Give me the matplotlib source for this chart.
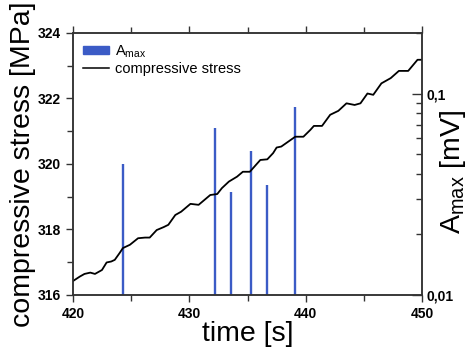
import matplotlib.pyplot as plt
import numpy as np
from matplotlib.ticker import FixedLocator, FuncFormatter, LogLocator, NullFormatter
from matplotlib.patches import Patch
from matplotlib.lines import Line2D

# compressive stress curve
t_stress = [420.0, 420.6, 421.0, 421.5, 421.9, 422.5, 422.9, 423.3, 423.6, 424.0,
            424.3, 424.9, 425.6, 426.2, 426.6, 427.2, 427.8, 428.2, 428.8, 429.3,
            430.1, 430.8, 431.3, 431.8, 432.4, 432.8, 433.4, 434.1, 434.6, 435.2,
            435.6, 436.1, 436.7, 437.2, 437.5, 437.9, 438.5, 439.1, 439.8, 440.4,
            440.7, 441.4, 442.1, 442.8, 443.5, 444.2, 444.7, 445.3, 445.8, 446.5,
            447.3, 448.0, 448.8, 449.6, 450.0]
stress = [316.42, 316.56, 316.64, 316.68, 316.64, 316.76, 316.99, 317.02, 317.07, 317.27,
          317.43, 317.53, 317.73, 317.75, 317.75, 317.98, 318.07, 318.14, 318.44, 318.54,
          318.78, 318.75, 318.90, 319.05, 319.08, 319.26, 319.46, 319.61, 319.76, 319.76,
          319.92, 320.12, 320.14, 320.33, 320.50, 320.53, 320.68, 320.83, 320.83, 321.04,
          321.16, 321.16, 321.50, 321.62, 321.85, 321.80, 321.85, 322.15, 322.11, 322.46,
          322.62, 322.84, 322.84, 323.18, 323.18]

# A_max events
t_amax = [424.3, 432.2, 433.6, 435.3, 436.65, 439.1]
amax = [0.0445, 0.0671, 0.0324, 0.0516, 0.035, 0.0853]

bar_color = '#3b5bc6'

fig = plt.figure(figsize=(4.67, 3.54), dpi=100)
ax = fig.add_axes([0.156, 0.167, 0.748, 0.74])
ax2 = ax.twinx()

ax2.vlines(t_amax, 0.01, amax, color=bar_color, lw=1.7)
ax2.set_yscale('log')
ax2.set_ylim(0.01, 0.2)

ax.plot(t_stress, stress, color='black', lw=1.3)
ax.set_zorder(ax2.get_zorder() + 1)
ax.patch.set_visible(False)

ax.set_xlim(420, 450)
ax.set_ylim(316, 324)
ax.set_xticks([420, 430, 440, 450])
ax.set_xticks([425, 435, 445], minor=True)
ax.set_yticks([316, 318, 320, 322, 324])
ax.set_yticks([317, 319, 321, 323], minor=True)

tick_font = dict(fontsize=10, fontweight='bold', family='Liberation Sans')
for lab in ax.get_xticklabels() + ax.get_yticklabels():
    lab.set(**tick_font)

ax.tick_params(which='both', direction='out', length=4, width=1, top=True, colors='#333333')
ax.tick_params(axis='x', which='both', top=True, labeltop=False)
ax.tick_params(which='major', length=5, labelcolor='black')

ax2.yaxis.set_major_locator(FixedLocator([0.01, 0.1]))
ax2.yaxis.set_minor_locator(LogLocator(base=10, subs=np.arange(2, 10)))
ax2.yaxis.set_minor_formatter(NullFormatter())
ax2.yaxis.set_major_formatter(FuncFormatter(lambda v, p: ('%g' % v).replace('.', ',')))
ax2.tick_params(axis='y', which='both', direction='in', length=4, width=1, colors='#333333')
ax2.tick_params(axis='y', which='major', length=7, labelcolor='black', pad=3)
for lab in ax2.get_yticklabels():
    lab.set(**tick_font)

for sp in list(ax.spines.values()) + list(ax2.spines.values()):
    sp.set_color('#333333')
    sp.set_linewidth(1.1)

lab_font = dict(fontsize=20.5, family='Liberation Sans')
ax.set_xlabel('time [s]', labelpad=0, **lab_font)
ax.set_ylabel('compressive stress [MPa]', labelpad=1, **lab_font)
ax2.set_ylabel(r'A$_{\mathregular{max}}$ [mV]', **lab_font)
ax2.yaxis.set_label_coords(1.045, 0.47)

handles = [Patch(color=bar_color), Line2D([], [], color='black', lw=1.1)]
ax.legend(handles, [r'A$_{\mathregular{max}}$', 'compressive stress'], loc='upper left',
          frameon=False, prop=dict(family='Liberation Sans', size=10.5),
          handlelength=1.8, handleheight=0.5, borderaxespad=0.3, labelspacing=0.15,
          handletextpad=0.4)

fig.savefig('out.png', dpi=100)
